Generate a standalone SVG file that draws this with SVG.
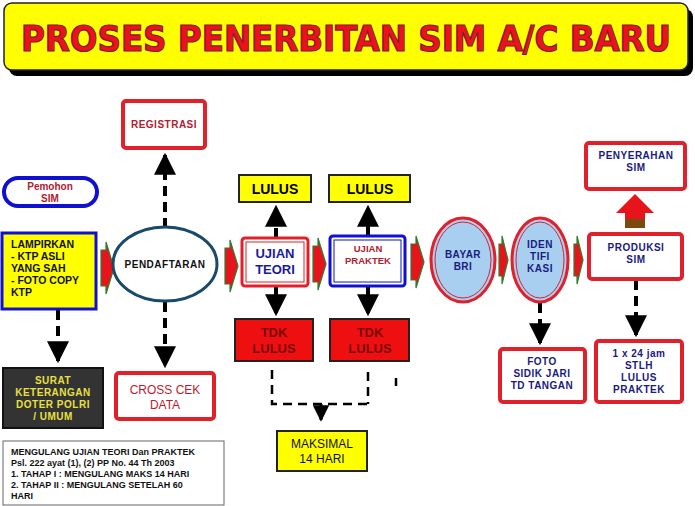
<svg xmlns="http://www.w3.org/2000/svg" width="695" height="506" viewBox="0 0 695 506">
<style>
text{font-family:"Liberation Sans","DejaVu Sans",sans-serif;font-weight:bold;text-anchor:middle}
.rb{fill:#fff;stroke:#e0202a;stroke-width:4}
.dash{stroke:#000;stroke-width:4;stroke-dasharray:10,6;fill:none}
.s{font-size:10px;letter-spacing:0.5px}
</style>
<defs>
<marker id="ah" viewBox="0 0 10 10" refX="9" refY="5" markerWidth="5.5" markerHeight="5.5" orient="auto" markerUnits="strokeWidth"><path d="M0,0L10,5L0,10z" fill="#000"/></marker>
<g id="fat"><path d="M0,8h5v-8l8,26l-8,26v-8h-5z" fill="#e8141c" stroke="#2e7d32" stroke-width="1.2"/></g>
</defs>
<rect width="695" height="506" fill="#fff"/>
<g id="title">
<rect x="9" y="9" width="684" height="67" rx="8" fill="#000"/>
<rect x="4" y="3" width="684" height="67" rx="8" fill="#ffff00" stroke="#222" stroke-width="1.5"/>
<text x="346" y="51" font-size="36" fill="#f0101c" stroke="#7a2030" stroke-width="1.2" textLength="650" lengthAdjust="spacingAndGlyphs" style="font-family:'DejaVu Sans Condensed','Liberation Sans',sans-serif">PROSES PENERBITAN SIM A/C BARU</text>
</g>
<g id="connectors">
<path class="dash" d="M165,228V155" marker-end="url(#ah)"/>
<path class="dash" d="M165,302V366" marker-end="url(#ah)"/>
<path class="dash" d="M58,310V361" marker-end="url(#ah)"/>
<path class="dash" d="M276,238V207" marker-end="url(#ah)"/>
<path class="dash" d="M276,287V314" marker-end="url(#ah)"/>
<path class="dash" d="M368,236V207" marker-end="url(#ah)"/>
<path class="dash" d="M368,287V314" marker-end="url(#ah)"/>
<path class="dash" d="M540,303V343" marker-end="url(#ah)"/>
<path class="dash" d="M636,280V335" marker-end="url(#ah)"/>
<path d="M272,370V404H370M368,372V404" stroke="#000" stroke-width="2.5" stroke-dasharray="9,6" fill="none"/>
<path d="M321,404V420" stroke="#000" stroke-width="3" marker-end="url(#ah)"/>
<path d="M396,378V386" stroke="#000" stroke-width="2.5"/>
<use href="#fat" x="101" y="242"/>
<use href="#fat" x="225" y="240"/>
<use href="#fat" x="313" y="238"/>
<use href="#fat" x="411" y="236"/>
<path d="M499,244h3v-8l6,24l-6,24v-8h-3z" fill="#e8141c" stroke="#2e7d32" stroke-width="1.2"/>
<path d="M574,244h3v-8l6,24l-6,24v-8h-3z" fill="#e8141c" stroke="#2e7d32" stroke-width="1.2"/>
<path d="M625,228v-15h-9l19,-19l19,19h-9v15z" fill="#e8141c"/>
<rect x="625" y="219" width="20" height="9" fill="#7a4a10"/>
</g>
<g id="registrasi"><rect class="rb" x="123" y="101" width="82" height="47" rx="3"/><text x="164" y="128" class="s" fill="#b02030" font-size="10">REGISTRASI</text></g>
<g id="pemohon"><rect x="4" y="178" width="93" height="28" rx="14" fill="#fff" stroke="#1010d0" stroke-width="4"/><text x="50" y="190" font-size="10" fill="#b02030">Pemohon</text><text x="50" y="202" font-size="10" fill="#b02030">SIM</text></g>
<g id="lampirkan"><rect x="2" y="233" width="94" height="76" fill="#ffff00" stroke="#1010d0" stroke-width="3"/>
<g font-size="10.5" fill="#111"><text x="11" y="248" style="text-anchor:start">LAMPIRKAN</text><text x="11" y="260" style="text-anchor:start">- KTP ASLI</text><text x="11" y="272" style="text-anchor:start">YANG SAH</text><text x="11" y="284" style="text-anchor:start">- FOTO COPY</text><text x="11" y="296" style="text-anchor:start">KTP</text></g></g>
<g id="pendaftaran"><ellipse cx="165" cy="264" rx="52" ry="37" fill="#fff" stroke="#1a4a6a" stroke-width="3"/><text x="165" y="268" class="s" fill="#111">PENDAFTARAN</text></g>
<g id="ujianteori"><rect x="242" y="238" width="66" height="48" rx="3" fill="#fff" stroke="#e0202a" stroke-width="3"/><rect x="246" y="242" width="58" height="40" fill="none" stroke="#e0202a" stroke-width="1"/><text x="275" y="258" font-size="13" fill="#1a1aa0">UJIAN</text><text x="275" y="274" font-size="13" fill="#1a1aa0">TEORI</text></g>
<g id="lulus1"><rect x="239" y="175" width="72" height="27" fill="#ffff00" stroke="#222" stroke-width="2"/><text x="275" y="194" font-size="14" fill="#000">LULUS</text></g>
<g id="tdk1"><rect x="235" y="319" width="78" height="42" fill="#ee1010" stroke="#222" stroke-width="2"/><text x="274" y="337" font-size="13" fill="#7a0a0a">TDK</text><text x="274" y="353" font-size="13" fill="#7a0a0a">LULUS</text></g>
<g id="ujianpraktek"><rect x="330" y="236" width="75" height="50" rx="3" fill="#fff" stroke="#1010d0" stroke-width="3"/><rect x="334" y="240" width="67" height="42" fill="none" stroke="#1010d0" stroke-width="1"/><text x="368" y="252" font-size="9.5" fill="#b02030">UJIAN</text><text x="368" y="264" font-size="9.5" fill="#b02030">PRAKTEK</text></g>
<g id="lulus2"><rect x="329" y="175" width="81" height="27" fill="#ffff00" stroke="#222" stroke-width="2"/><text x="370" y="194" font-size="14" fill="#000">LULUS</text></g>
<g id="tdk2"><rect x="330" y="319" width="79" height="42" fill="#ee1010" stroke="#222" stroke-width="2"/><text x="370" y="337" font-size="13" fill="#7a0a0a">TDK</text><text x="370" y="353" font-size="13" fill="#7a0a0a">LULUS</text></g>
<g id="bayar"><ellipse cx="463" cy="260" rx="32" ry="42" fill="#a8cff0" stroke="#e0202a" stroke-width="3"/><ellipse cx="463" cy="260" rx="28" ry="38" fill="none" stroke="#e0202a" stroke-width="1"/><text x="463" y="258" class="s" fill="#1a1a80">BAYAR</text><text x="463" y="270" class="s" fill="#1a1a80">BRI</text></g>
<g id="identifikasi"><ellipse cx="540" cy="260" rx="28" ry="42" fill="#a8cff0" stroke="#e0202a" stroke-width="3"/><ellipse cx="540" cy="260" rx="24" ry="38" fill="none" stroke="#e0202a" stroke-width="1"/><text x="540" y="248" class="s" fill="#1a1a80">IDEN</text><text x="540" y="260" class="s" fill="#1a1a80">TIFI</text><text x="540" y="272" class="s" fill="#1a1a80">KASI</text></g>
<g id="produksi"><rect class="rb" x="589" y="234" width="93" height="45" rx="3"/><text x="636" y="251" class="s" fill="#1a1a80">PRODUKSI</text><text x="636" y="263" class="s" fill="#1a1a80">SIM</text></g>
<g id="penyerahan"><rect class="rb" x="586" y="143" width="99" height="46" rx="3"/><text x="636" y="159" class="s" fill="#1a1a80">PENYERAHAN</text><text x="636" y="171" class="s" fill="#1a1a80">SIM</text></g>
<g id="foto"><rect class="rb" x="500" y="349" width="85" height="53" rx="3"/><text x="542" y="365" class="s" fill="#1a1a80">FOTO</text><text x="542" y="377" class="s" fill="#1a1a80">SIDIK JARI</text><text x="542" y="389" class="s" fill="#1a1a80">TD TANGAN</text></g>
<g id="jam"><rect class="rb" x="596" y="341" width="86" height="61" rx="3"/><text x="639" y="357" class="s" fill="#1a1a80">1 x 24 jam</text><text x="639" y="369" class="s" fill="#1a1a80">STLH</text><text x="639" y="381" class="s" fill="#1a1a80">LULUS</text><text x="639" y="393" class="s" fill="#1a1a80">PRAKTEK</text></g>
<g id="surat"><rect x="3" y="368" width="100" height="60" fill="#333" stroke="#111" stroke-width="2"/><text x="53" y="384" class="s" fill="#e8e040">SURAT</text><text x="53" y="396" class="s" fill="#e8e040">KETERANGAN</text><text x="53" y="408" class="s" fill="#e8e040">DOTER POLRI</text><text x="53" y="420" class="s" fill="#e8e040">/ UMUM</text></g>
<g id="crosscek"><rect class="rb" x="116" y="373" width="98" height="46" rx="3"/><text x="165" y="394" font-size="12" fill="#c01a2a" style="font-weight:normal">CROSS CEK</text><text x="165" y="409" font-size="12" fill="#c01a2a" style="font-weight:normal">DATA</text></g>
<g id="maksimal"><rect x="277" y="431" width="90" height="40" fill="#ffff00" stroke="#222" stroke-width="2"/><text x="322" y="448" font-size="12" fill="#111" style="font-weight:normal">MAKSIMAL</text><text x="322" y="463" font-size="12" fill="#111" style="font-weight:normal">14 HARI</text></g>
<g id="note"><rect x="3" y="441" width="221" height="64" fill="#fff" stroke="#666" stroke-width="1"/>
<g font-size="9" fill="#111"><text x="11" y="455" style="text-anchor:start">MENGULANG UJIAN TEORI Dan PRAKTEK</text><text x="11" y="466" style="text-anchor:start">Psl. 222 ayat (1), (2) PP No. 44 Th 2003</text><text x="11" y="477" style="text-anchor:start">1. TAHAP I : MENGULANG MAKS 14 HARI</text><text x="11" y="488" style="text-anchor:start">2. TAHAP II : MENGULANG SETELAH 60</text><text x="11" y="499" style="text-anchor:start">HARI</text></g></g>
</svg>
